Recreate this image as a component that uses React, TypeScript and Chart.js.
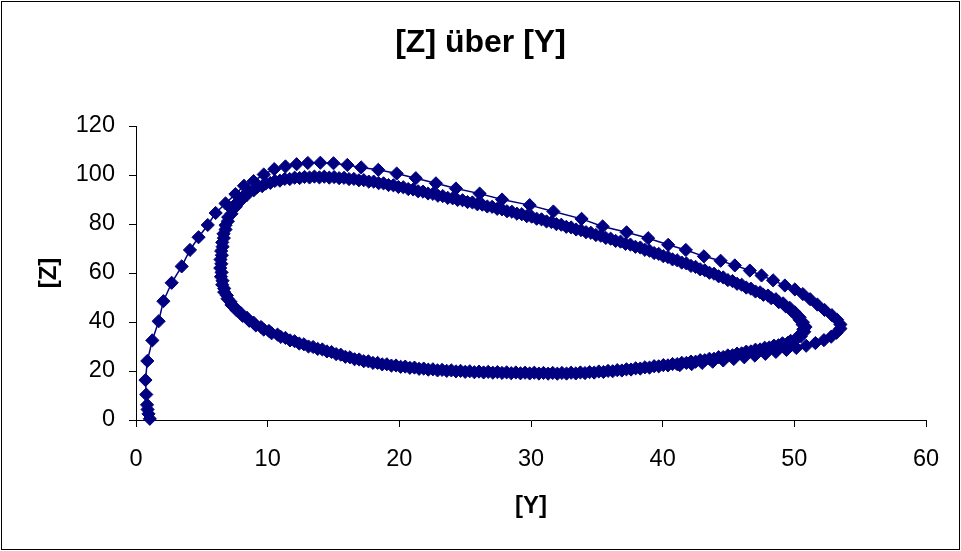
import React, { useEffect, useRef } from "react";
import { Chart, registerables } from "chart.js";

Chart.register(...registerables);

// ---- data: [Y, Z] pairs ----
const transient: [number, number][] = [
  [1.05, 0.5], [0.95, 2.5], [0.88, 4.3], [0.84, 6.2], [0.78, 10.4], [0.72, 16.3], [0.86, 24.1],
  [1.24, 32.5], [1.72, 40.3], [2.08, 48.5], [2.71, 56.0], [3.47, 62.7], [4.1, 69.4], [4.75, 74.6],
  [5.45, 79.6], [6.05, 84.5], [6.8, 88.4], [7.55, 92.2], [8.2, 95.6], [8.93, 97.5], [9.7, 100.2],
  [10.5, 102.4], [11.35, 103.5], [12.2, 104.4], [13.05, 104.9], [14.0, 105.0], [15.0, 104.8],
  [16.05, 104.1], [17.1, 103.1], [18.4, 102.1], [19.8, 100.6], [21.25, 98.7], [22.78, 96.6],
  [24.3, 94.5], [26.1, 92.4], [27.8, 90.0], [29.9, 87.7], [31.7, 85.1], [33.84, 82.1], [35.44, 79.0],
  [37.26, 76.6], [38.9, 74.2], [40.42, 71.5], [41.76, 69.4], [43.13, 66.8], [44.4, 65.0], [45.48, 63.1],
  [46.62, 61.0], [47.51, 59.0], [48.39, 57.0], [49.28, 54.9], [50.04, 53.3], [50.65, 51.4], [51.2, 49.3],
  [51.75, 47.1], [52.3, 44.9], [52.85, 42.8], [53.25, 40.9], [53.5, 39.0],
];

const outerReturn: [number, number][] = [
  [53.5, 37.3], [53.2, 35.6], [52.8, 34.0], [52.25, 32.6], [51.6, 31.4], [50.9, 30.3], [50.15, 29.4],
  [49.4, 28.6], [48.6, 27.8], [47.8, 27.0], [47.0, 26.3], [46.2, 25.6], [45.4, 24.9], [44.6, 24.3],
  [43.8, 23.8], [43.0, 23.3], [42.2, 22.8], [41.3, 22.4],
];

const cycle1: [number, number][] = [
  [40.4, 22.3], [39.7, 21.9], [39.0, 21.4], [38.3, 21.0], [37.6, 20.6], [36.9, 20.2], [36.2, 19.9],
  [35.5, 19.6], [34.8, 19.35], [34.1, 19.15], [33.4, 19.0], [32.7, 18.95], [32.0, 18.9], [31.3, 18.9],
  [30.6, 18.95], [29.9, 19.0], [29.2, 19.05], [28.5, 19.1], [27.8, 19.2], [27.1, 19.3], [26.4, 19.4],
  [25.7, 19.5], [25.0, 19.65], [24.3, 19.85], [23.6, 20.05], [22.9, 20.25], [22.2, 20.55], [21.5, 20.9],
  [20.8, 21.3], [20.1, 21.7], [19.4, 22.2], [18.7, 22.7], [18.0, 23.3], [17.3, 24.0], [16.6, 24.8],
  [15.9, 25.8], [15.2, 26.9], [14.5, 28.0], [13.8, 29.0], [13.1, 30.0], [12.4, 31.2], [11.7, 32.5],
  [11.0, 33.9], [10.3, 35.4], [9.7, 36.9], [9.1, 38.6], [8.6, 40.5], [8.1, 42.5], [7.65, 44.7],
  [7.25, 47.0], [6.95, 49.5], [6.7, 52.2], [6.55, 55.2], [6.45, 58.5], [6.4, 62.0], [6.42, 65.5],
  [6.47, 69.0], [6.55, 72.5], [6.65, 76.0], [6.8, 79.5], [7.0, 82.8], [7.3, 85.9], [7.65, 88.6],
  [8.1, 91.1], [8.6, 93.2], [9.2, 95.0], [9.85, 96.5], [10.55, 97.6], [11.3, 98.4], [12.05, 98.9],
  [12.8, 99.2], [13.55, 99.35], [14.3, 99.3], [15.05, 99.15], [15.8, 98.85], [16.55, 98.4], [17.3, 97.9],
  [18.05, 97.3], [18.8, 96.6], [19.55, 95.8], [20.3, 95.0], [21.05, 94.1], [21.8, 93.2], [22.55, 92.3],
  [23.3, 91.4], [24.05, 90.5], [24.8, 89.7], [25.55, 88.8], [26.3, 87.9], [27.05, 87.0], [27.8, 86.0],
  [28.55, 85.0], [29.3, 84.0], [30.05, 83.0], [30.8, 81.9], [31.55, 80.8], [32.3, 79.7], [33.05, 78.6],
  [33.8, 77.5], [34.55, 76.4], [35.3, 75.2], [36.05, 74.0], [36.8, 72.8], [37.55, 71.6], [38.3, 70.4],
  [39.0, 69.1], [39.7, 67.8], [40.4, 66.5], [41.1, 65.2], [41.8, 63.9], [42.5, 62.5], [43.2, 61.1],
  [43.9, 59.7], [44.6, 58.2], [45.3, 56.7], [46.0, 55.2], [46.7, 53.6], [47.4, 52.1], [48.0, 50.8],
  [48.6, 49.3], [49.15, 47.6], [49.65, 45.8], [50.05, 43.9], [50.4, 41.9], [50.65, 39.9], [50.85, 38.0],
  [50.75, 36.0], [50.5, 34.2], [50.1, 32.7], [49.5, 31.5], [48.8, 30.5], [48.1, 29.6], [47.4, 28.8],
  [46.7, 28.0], [46.0, 27.2], [45.3, 26.4], [44.6, 25.7], [43.9, 25.0], [43.2, 24.4], [42.5, 23.8],
  [41.8, 23.3], [41.1, 22.8],
];

const cycle2: [number, number][] = [
  [40.05, 22.4], [39.35, 21.95], [38.65, 21.5], [37.95, 21.1], [37.25, 20.7], [36.55, 20.35],
  [35.85, 20.05], [35.15, 19.8], [34.45, 19.55], [33.75, 19.4], [33.05, 19.3], [32.35, 19.2],
  [31.65, 19.2], [30.95, 19.2], [30.25, 19.3], [29.55, 19.3], [28.85, 19.4], [28.15, 19.45],
  [27.45, 19.55], [26.75, 19.65], [26.05, 19.75], [25.35, 19.9], [24.65, 20.05], [23.95, 20.25],
  [23.25, 20.45], [22.55, 20.7], [21.85, 21.0], [21.15, 21.4], [20.45, 21.8], [19.75, 22.25],
  [19.05, 22.75], [18.35, 23.3], [17.65, 23.95], [16.95, 24.7], [16.25, 25.6], [15.55, 26.65],
  [14.85, 27.75], [14.15, 28.8], [13.45, 29.8], [12.75, 30.9], [12.05, 32.15], [11.35, 33.5],
  [10.75, 34.85], [10.1, 36.35], [9.5, 37.95], [8.93, 39.75], [8.43, 41.7], [7.95, 43.7],
  [7.53, 45.85], [7.18, 48.25], [6.9, 50.85], [6.7, 53.7], [6.57, 56.85], [6.5, 60.25],
  [6.48, 63.75], [6.52, 67.25], [6.58, 70.75], [6.67, 74.25], [6.8, 77.75], [6.98, 81.15],
  [7.25, 84.15], [7.58, 87.05], [7.98, 89.65], [8.43, 91.9], [8.95, 93.8], [9.58, 95.45],
  [10.2, 96.75], [10.93, 97.7], [11.68, 98.35], [12.43, 98.75], [13.18, 98.98], [13.93, 99.03],
  [14.68, 98.93], [15.43, 98.7], [16.18, 98.33], [16.93, 97.85], [17.68, 97.3], [18.43, 96.65],
  [19.18, 95.9], [19.93, 95.1], [20.68, 94.25], [21.43, 93.35], [22.18, 92.45], [22.93, 91.55],
  [23.68, 90.65], [24.43, 89.8], [25.18, 88.95], [25.93, 88.05], [26.68, 87.15], [27.43, 86.2],
  [28.18, 85.2], [28.93, 84.2], [29.68, 83.2], [30.43, 82.15], [31.18, 81.05], [31.93, 79.95],
  [32.68, 78.85], [33.43, 77.75], [34.18, 76.65], [34.93, 75.5], [35.68, 74.3], [36.43, 73.1],
  [37.18, 71.9], [37.93, 70.7], [38.65, 69.45], [39.35, 68.15], [40.05, 66.85], [40.75, 65.55],
  [41.45, 64.25], [42.15, 62.9], [42.85, 61.5], [43.55, 60.1], [44.25, 58.65], [44.95, 57.1],
  [45.65, 55.6], [46.35, 54.05], [47.05, 52.45], [47.65, 51.1], [48.25, 49.7], [48.82, 48.1],
  [49.34, 46.4], [49.77, 44.65], [50.13, 42.8], [50.4, 40.9], [50.63, 38.95], [50.68, 37.0],
  [50.5, 35.15], [50.2, 33.55], [49.72, 32.3], [49.1, 31.3], [48.45, 30.35], [47.75, 29.5],
  [47.05, 28.7], [46.35, 27.9], [45.65, 27.1], [44.95, 26.35], [44.25, 25.65], [43.55, 25.0],
  [42.85, 24.4], [42.15, 23.85], [41.45, 23.35], [40.75, 22.85],
];

const xAxisRange = { min: 0, max: 60, step: 10 };
const yAxisRange = { min: 0, max: 120, step: 20 };
const titleText = "[Z] über [Y]";
const xTitle = "[Y]";
const yTitle = "[Z]";

const NAVY = "#000080";
const FONT = "'Liberation Sans', Arial, sans-serif";

export default function App() {
  const ref = useRef<HTMLCanvasElement | null>(null);

  useEffect(() => {
    if (!ref.current) return;
    const pts = [...transient, ...outerReturn, ...cycle1, ...cycle2].map(([y, z]) => ({ x: y, y: z }));
    const chart = new Chart(ref.current, {
      type: "scatter",
      data: {
        datasets: [
          {
            data: pts,
            showLine: true,
            borderColor: NAVY,
            borderWidth: 1.5,
            pointStyle: "rectRot",
            pointRadius: 6.6,
            pointHoverRadius: 6.6,
            pointBackgroundColor: NAVY,
            pointBorderColor: NAVY,
            pointBorderWidth: 1,
            clip: false,
            yAxisID: "y",
          } as any,
        ],
      },
      options: {
        animation: false,
        responsive: false,
        events: [],
        layout: { padding: 0 },
        plugins: {
          legend: { display: false },
          tooltip: { enabled: false },
          title: {
            display: true,
            text: titleText,
            color: "#000",
            font: { family: FONT, size: 32, weight: "bold" },
            padding: { top: 24, bottom: 63.6 },
          },
        },
        scales: {
          x: {
            type: "linear",
            min: xAxisRange.min,
            max: xAxisRange.max,
            ticks: {
              stepSize: xAxisRange.step,
              color: "#000",
              font: { family: FONT, size: 23.5 },
              padding: 18,
            },
            grid: { drawOnChartArea: false, tickLength: 7, color: "#000", lineWidth: 1 },
            border: { display: true, color: "#000", width: 1 },
            title: {
              display: true,
              text: xTitle,
              color: "#000",
              font: { family: FONT, size: 24, weight: "bold" },
              padding: { top: 0, bottom: 30 },
            },
            afterFit: (s: any) => {
              s.height = 131;
            },
          },
          y: {
            type: "linear",
            position: "left",
            min: yAxisRange.min,
            max: yAxisRange.max,
            ticks: {
              stepSize: yAxisRange.step,
              color: "#000",
              font: { family: FONT, size: 23.5 },
              padding: 14,
            },
            grid: { drawOnChartArea: false, tickLength: 7, color: "#000", lineWidth: 1 },
            border: { display: true, color: "#000", width: 1 },
            title: {
              display: true,
              text: yTitle,
              color: "#000",
              font: { family: FONT, size: 24, weight: "bold" },
              padding: { top: 35, bottom: 0 },
            },
            afterFit: (s: any) => {
              s.width = 136;
            },
          },
          yRightSpace: {
            type: "linear",
            position: "right",
            display: true,
            ticks: { display: false },
            grid: { display: false, drawTicks: false },
            border: { display: false },
            afterFit: (s: any) => {
              s.width = 35;
            },
          },
        },
      } as any,
    });
    return () => chart.destroy();
  }, []);

  return (
    <div style={{ position: "fixed", left: 0, top: 0, width: 961, height: 551, background: "#fff" }}>
      <canvas ref={ref} width={961} height={551} style={{ display: "block", width: 961, height: 551 }} />
      <div
        style={{
          position: "absolute",
          left: 1,
          top: 1,
          width: 957,
          height: 547,
          border: "1px solid #000",
          pointerEvents: "none",
        }}
      />
    </div>
  );
}
